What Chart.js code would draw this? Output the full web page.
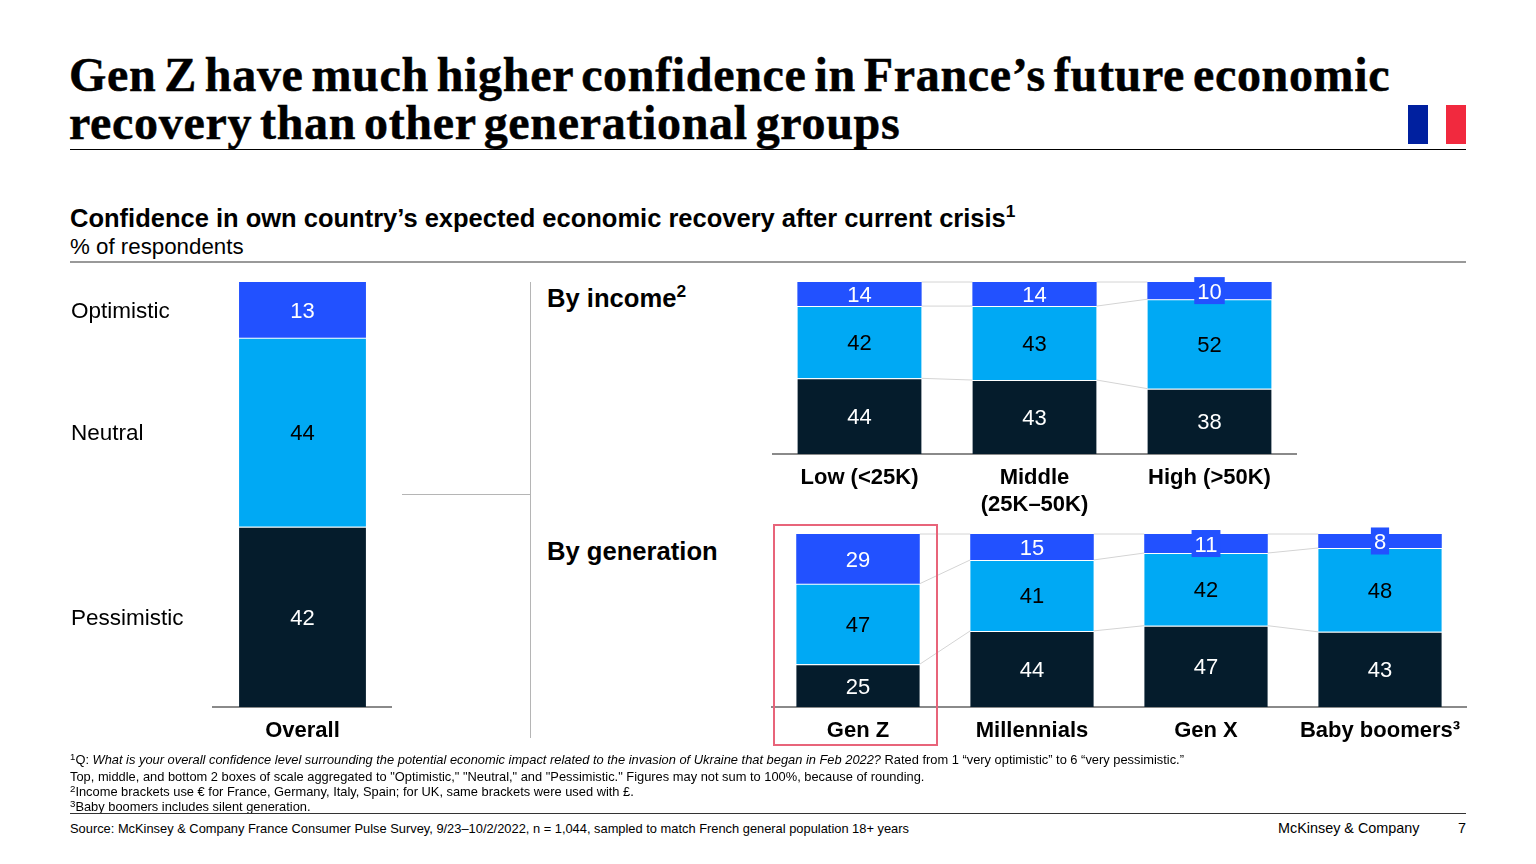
<!DOCTYPE html>
<html>
<head>
<meta charset="utf-8">
<script src="https://cdn.jsdelivr.net/npm/chart.js@4"></script>
<style>
  html, body { margin: 0; padding: 0; background: #fff; }
  body { width: 1536px; height: 864px; position: relative; overflow: hidden; font-family: "Liberation Sans", sans-serif; color: #000; }
  .abs { position: absolute; white-space: nowrap; }
  .rule { position: absolute; left: 70px; width: 1396px; }
  .title { left: 69px; top: 51px; font: bold 48px/48px "Liberation Serif", serif; -webkit-text-stroke: 0.5px #000; letter-spacing: 0.68px; word-spacing: -4.8px; }
  .subtitle { left: 70px; top: 204px; font: bold 25.5px/28px "Liberation Sans", sans-serif; }
  .unit { left: 70px; top: 234px; font: 22.3px/26px "Liberation Sans", sans-serif; }
  .group { left: 547px; font: bold 25.6px/28px "Liberation Sans", sans-serif; }
  sup { font-size: 68%; line-height: 0; vertical-align: baseline; position: relative; top: -0.55em; }
  .note { left: 70px; font: 12.87px/15px "Liberation Sans", sans-serif; }
  .note sup { font-size: 75%; top: -0.4em; }
  canvas { position: absolute; }
  .chart-box { position: absolute; }
</style>
</head>
<body>
<div class="abs title">Gen Z have much higher confidence in France’s future economic<br>recovery than other generational groups</div>
<div class="abs" style="left:1408px;top:105px;width:20px;height:39px;background:#00209f"></div>
<div class="abs" style="left:1446px;top:105px;width:20px;height:39px;background:#f1293e"></div>
<div class="rule" style="top:149px;height:1px;background:#000"></div>

<div class="abs subtitle">Confidence in own country’s expected economic recovery after current crisis<sup>1</sup></div>
<div class="abs unit">% of respondents</div>
<div class="rule" style="top:261px;height:2px;background:#999"></div>

<div class="abs" style="left:402px;top:494px;width:128px;height:1px;background:#b5b5b5"></div>
<div class="abs" style="left:530px;top:282px;width:1px;height:456px;background:#b5b5b5"></div>
<div class="abs group" style="top:284px">By income<sup>2</sup></div>
<div class="abs group" style="top:537px">By generation</div>

<div class="chart-box" style="left:60px;top:272px;width:332px;height:480px"><canvas id="overallChart"></canvas></div>
<div class="chart-box" style="left:772px;top:272px;width:525px;height:250px"><canvas id="incomeChart"></canvas></div>
<div class="chart-box" style="left:771px;top:524px;width:696px;height:230px"><canvas id="generationChart"></canvas></div>

<div class="abs" style="left:773px;top:524px;width:161px;height:218px;border:2px solid #e8647a"></div>

<div class="abs note" style="top:752px"><sup>1</sup>Q: <i>What is your overall confidence level surrounding the potential economic impact related to the invasion of Ukraine that began in Feb 2022?</i> Rated from 1 “very optimistic” to 6 “very pessimistic.”</div>
<div class="abs note" style="top:769px">Top, middle, and bottom 2 boxes of scale aggregated to "Optimistic," "Neutral," and "Pessimistic." Figures may not sum to 100%, because of rounding.</div>
<div class="abs note" style="top:784px"><sup>2</sup>Income brackets use € for France, Germany, Italy, Spain; for UK, same brackets were used with £.</div>
<div class="abs note" style="top:799px"><sup>3</sup>Baby boomers includes silent generation.</div>
<div class="rule" style="top:813px;height:1px;background:#333"></div>
<div class="abs note" style="top:821px">Source: McKinsey &amp; Company France Consumer Pulse Survey, 9/23–10/2/2022, n = 1,044, sampled to match French general population 18+ years</div>
<div class="abs note" style="left:1278px;top:821px;font-size:14.4px">McKinsey &amp; Company</div>
<div class="abs note" style="left:1458px;top:821px;font-size:14.4px">7</div>

<script>
// Series names, bottom to top of the stack
const seriesNames = ['Pessimistic', 'Neutral', 'Optimistic'];
const seriesColors = ['#051c2c', '#00a9f4', '#2251ff'];
const labelColors = ['#ffffff', '#000000', '#ffffff'];

const overallCategories = ['Overall'];
const overallOptimistic = [13];
const overallNeutral = [44];
const overallPessimistic = [42];

const incomeCategories = ['Low (<25K)', ['Middle', '(25K–50K)'], 'High (>50K)'];
const incomeOptimistic = [14, 14, 10];
const incomeNeutral = [42, 43, 52];
const incomePessimistic = [44, 43, 38];

const generationCategories = ['Gen Z', 'Millennials', 'Gen X', 'Baby boomers³'];
const generationOptimistic = [29, 15, 11, 8];
const generationNeutral = [47, 41, 42, 48];
const generationPessimistic = [25, 44, 47, 43];

const FONT = '"Liberation Sans", sans-serif';

// Thin grey lines joining the segment boundaries of neighbouring bars
const connectorPlugin = {
  id: 'connectors',
  beforeDatasetsDraw(chart) {
    const ctx = chart.ctx;
    ctx.save();
    ctx.strokeStyle = '#d4d4d4';
    ctx.lineWidth = 1;
    chart.data.datasets.forEach((ds, i) => {
      const bars = chart.getDatasetMeta(i).data;
      for (let j = 0; j < bars.length - 1; j++) {
        ctx.beginPath();
        ctx.moveTo(bars[j].x + bars[j].width / 2, bars[j].y);
        ctx.lineTo(bars[j + 1].x - bars[j + 1].width / 2, bars[j + 1].y);
        ctx.stroke();
      }
    });
    ctx.restore();
  }
};

// Value labels; thin segments get a small box behind the number
const valueLabelPlugin = {
  id: 'valueLabels',
  afterDatasetsDraw(chart) {
    const ctx = chart.ctx;
    ctx.save();
    ctx.font = '22px ' + FONT;
    ctx.textAlign = 'center';
    ctx.textBaseline = 'middle';
    chart.data.datasets.forEach((ds, i) => {
      chart.getDatasetMeta(i).data.forEach((bar, j) => {
        const text = String(ds.rawValues[j]);
        const y = (bar.y + bar.base) / 2;
        if (bar.base - bar.y < 22) {
          const w = ctx.measureText(text).width + 6;
          ctx.fillStyle = seriesColors[i];
          ctx.fillRect(bar.x - w / 2, y - 13.5, w, 27);
        }
        ctx.fillStyle = labelColors[i];
        ctx.fillText(text, bar.x, y + 2);
      });
    });
    ctx.restore();
  }
};

// Row names to the left of the single Overall bar
const rowNamePlugin = {
  id: 'rowNames',
  afterDraw(chart) {
    const ctx = chart.ctx;
    ctx.save();
    ctx.font = '22.5px ' + FONT;
    ctx.fillStyle = '#000';
    ctx.textAlign = 'left';
    ctx.textBaseline = 'middle';
    seriesNames.forEach((name, i) => {
      const bar = chart.getDatasetMeta(i).data[0];
      ctx.fillText(name, 11, (bar.y + bar.base) / 2 + 2);
    });
    ctx.restore();
  }
};

function createStackedChart(id, categories, stacks, opts) {
  // Bars in the source all fill the full height, so plot each as a share of its own total
  const totals = categories.map((c, j) => stacks.reduce((sum, s) => sum + s[j], 0));
  return new Chart(document.getElementById(id), {
    type: 'bar',
    data: {
      labels: categories,
      datasets: stacks.map((values, i) => ({
        label: seriesNames[i],
        data: values.map((v, j) => v / totals[j] * 100),
        rawValues: values,
        backgroundColor: seriesColors[i],
        borderColor: 'rgba(255,255,255,0.5)',
        borderWidth: i < 2 ? { top: 1, left: 0, right: 0, bottom: 0 } : 0,
        barPercentage: 1,
        categoryPercentage: opts.barShare
      }))
    },
    options: {
      responsive: true,
      maintainAspectRatio: false,
      animation: false,
      layout: { padding: { top: 10, left: opts.leftPad || 0, right: 0, bottom: 0 } },
      plugins: { legend: { display: false }, tooltip: { enabled: false } },
      scales: {
        x: {
          stacked: true,
          grid: { display: false, drawTicks: false },
          border: { color: '#8a8a8a', width: 2 },
          afterFit: scale => {
            scale.height = opts.axisHeight;
            scale.paddingLeft = 0;
            scale.paddingRight = 0;
          },
          ticks: {
            autoSkip: false,
            maxRotation: 0,
            padding: 11,
            color: '#000',
            font: { family: FONT, size: 22, weight: 'bold', lineHeight: 1.22 }
          }
        },
        y: { stacked: true, display: false, min: 0, max: 100 }
      }
    },
    plugins: [connectorPlugin, valueLabelPlugin].concat(opts.extraPlugins || [])
  });
}

createStackedChart('overallChart', overallCategories,
  [overallPessimistic, overallNeutral, overallOptimistic],
  { barShare: 0.709, leftPad: 153, axisHeight: 45, extraPlugins: [rowNamePlugin] });

createStackedChart('incomeChart', incomeCategories,
  [incomePessimistic, incomeNeutral, incomeOptimistic],
  { barShare: 0.71, axisHeight: 68 });

createStackedChart('generationChart', generationCategories,
  [generationPessimistic, generationNeutral, generationOptimistic],
  { barShare: 0.71, axisHeight: 47 });
</script>
</body>
</html>
